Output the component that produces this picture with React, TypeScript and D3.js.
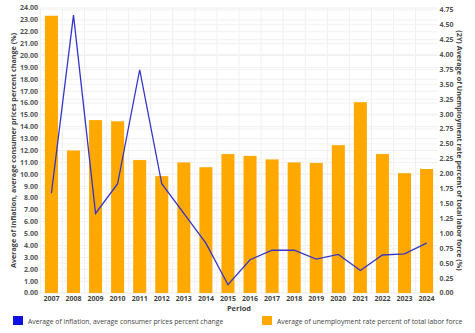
import React from "react";
import * as d3 from "d3";

const years = ["2007","2008","2009","2010","2011","2012","2013","2014","2015","2016","2017","2018","2019","2020","2021","2022","2023","2024"];
const inflation = [8.4, 23.4, 6.7, 9.2, 18.8, 9.2, 6.7, 4.2, 0.7, 2.8, 3.6, 3.6, 2.85, 3.25, 1.9, 3.2, 3.3, 4.2];
const unemployment = [4.65, 2.39, 2.9, 2.88, 2.23, 1.96, 2.19, 2.11, 2.33, 2.3, 2.24, 2.19, 2.18, 2.48, 3.2, 2.33, 2.01, 2.08];
const leftTicks = d3.range(0, 25, 1);
const rightTicks = d3.range(0, 4.76, 0.25);

const W = 475, H = 333;
const top = 8, bottom = 293, left = 40.5, right = 437.5;
const font = "'Open Sans', 'DejaVu Sans', sans-serif";

export default function App() {
  const x = d3.scaleBand().domain(years).range([left, right]).paddingInner(0.41).paddingOuter(0.2);
  const yL = d3.scaleLinear().domain([0, 24]).range([bottom, top]);
  const yR = d3.scaleLinear().domain([0, 4.78]).range([bottom, top]);
  const line = d3.line<number>().x((_, i) => (x(years[i]) as number) + x.bandwidth() / 2).y(d => yL(d));
  const step = x.step();
  return (
    <svg width={W} height={H} style={{ position: "absolute", left: 0, top: 0, background: "#fff" }} fontFamily={font}>
      {leftTicks.map(t => (
        <line key={"gl" + t} x1={left} x2={right} y1={yL(t)} y2={yL(t)} stroke="#f0f0f0" strokeWidth={1} />
      ))}
      {rightTicks.map(t => (
        <line key={"gr" + t} x1={left} x2={right} y1={yR(t)} y2={yR(t)} stroke="#f3f3f3" strokeWidth={1} />
      ))}
      {years.map(yv => (
        <line key={"gv" + yv} x1={(x(yv) as number) - (step - x.bandwidth()) / 2} x2={(x(yv) as number) - (step - x.bandwidth()) / 2} y1={top} y2={bottom} stroke="#f0f0f0" strokeWidth={1} />
      ))}
      {years.map((yv, i) => (
        <rect key={"b" + yv} x={x(yv)} y={yR(unemployment[i])} width={x.bandwidth()} height={bottom - yR(unemployment[i])} fill="#FFA800" />
      ))}
      <path d={line(inflation) || ""} fill="none" stroke="#3535c8" strokeWidth={1.3} />
      {leftTicks.map(t => (
        <text key={"lt" + t} x={38} y={yL(t)} dy="0.35em" textAnchor="end" fontSize={7} fontWeight="bold" fill="#555">{t.toFixed(2)}</text>
      ))}
      {rightTicks.map(t => (
        <text key={"rt" + t} x={439.5} y={yR(t)} dy="0.35em" textAnchor="start" fontSize={7} fontWeight="bold" fill="#555">{t.toFixed(2)}</text>
      ))}
      {years.map(yv => (
        <text key={"xt" + yv} x={(x(yv) as number) + x.bandwidth() / 2} y={301} textAnchor="middle" fontSize={7} fontWeight="bold" fill="#444">{yv}</text>
      ))}
      <text x={(left + right) / 2} y={310.5} textAnchor="middle" fontSize={7.5} fontWeight="bold" fill="#444">Period</text>
      <text transform={`translate(16,${(top + bottom) / 2}) rotate(-90)`} textAnchor="middle" fontSize={7.2} fontWeight="bold" fill="#444">Average of Inflation, average consumer prices percent change (%)</text>
      <text transform={`translate(457,${(top + bottom) / 2}) rotate(90)`} textAnchor="middle" fontSize={7.2} fontWeight="bold" fill="#444">(2Y) Average of Unemployment rate percent of total labor force (%)</text>
      <rect x={13} y={316} width={10} height={9} fill="#1010e0" />
      <text x={28} y={323.5} fontSize={6.8} fill="#444">Average of inflation, average consumer prices percent change</text>
      <rect x={262} y={316} width={10} height={9} fill="#FFA800" />
      <text x={277} y={323.5} fontSize={6.8} fill="#444">Average of unemployment rate percent of total labor force</text>
    </svg>
  );
}
